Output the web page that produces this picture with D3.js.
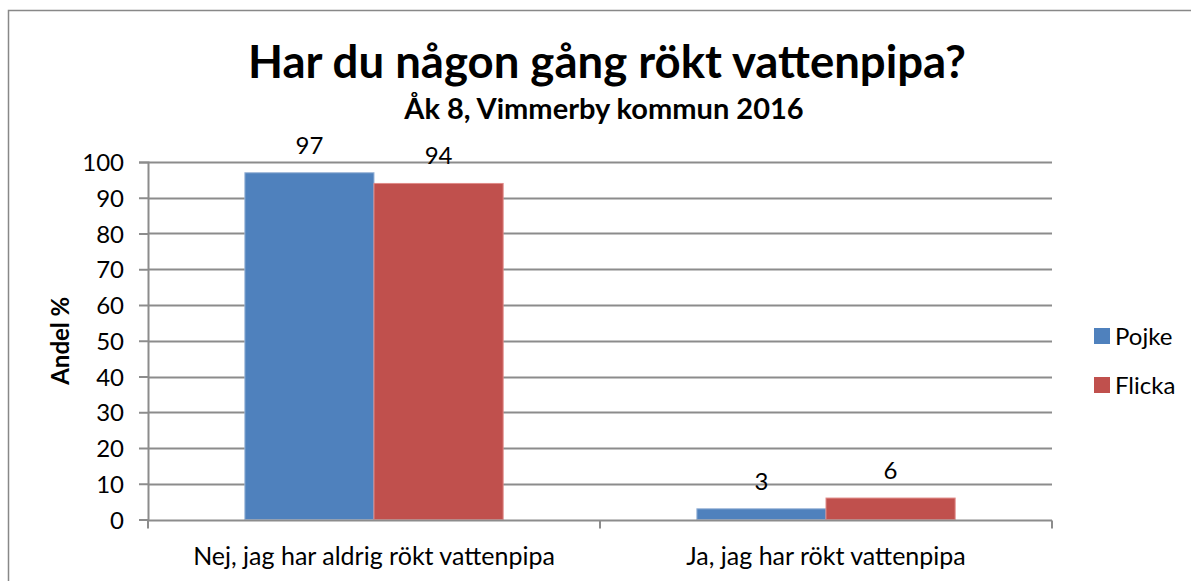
<!DOCTYPE html>
<html>
<head>
<meta charset="utf-8">
<script src="https://cdn.jsdelivr.net/npm/d3@7"></script>
<style>
  body { margin: 0; background: #fff; }
  svg text { font-family: Lato, "Open Sans", sans-serif; fill: #000; }
</style>
</head>
<body>
<div id="chart"></div>
<script>
const categories = ['Nej, jag har aldrig rökt vattenpipa', 'Ja, jag har rökt vattenpipa'];
const seriesNames = ['Pojke', 'Flicka'];
const pojke = [97, 3];
const flicka = [94, 6];
const yTicks = [0, 10, 20, 30, 40, 50, 60, 70, 80, 90, 100];
const colors = ['#4F81BD', '#C0504D'];

const width = 1191;
const height = 581;
const margin = { left: 148, right: 139, top: 162, bottom: 61 };

const svg = d3.select('#chart').append('svg')
  .attr('width', width)
  .attr('height', height);

// outer chart border (runs off the right and bottom edges)
svg.append('rect')
  .attr('x', 8.5).attr('y', 10.5)
  .attr('width', 1200).attr('height', 600)
  .attr('fill', 'none')
  .attr('stroke', '#888')
  .attr('stroke-width', 1.5);

const x0 = d3.scaleBand()
  .domain(categories)
  .range([margin.left, width - margin.right])
  .paddingInner(0)
  .paddingOuter(0);

// gap width 150%: half the gap on each side of the pair of bars
const x1 = d3.scaleBand()
  .domain(seriesNames)
  .range([0, x0.bandwidth()])
  .paddingInner(0)
  .paddingOuter(0.75);

const y = d3.scaleLinear()
  .domain([0, 100])
  .range([height - margin.bottom - 0.5, margin.top]);

const data = categories.map((c, i) => ({
  cat: c,
  values: [
    { name: seriesNames[0], value: pojke[i] },
    { name: seriesNames[1], value: flicka[i] }
  ]
}));

// gridlines
svg.append('g')
  .selectAll('line')
  .data(yTicks.slice(1))
  .join('line')
  .attr('x1', margin.left)
  .attr('x2', width - margin.right)
  .attr('y1', d => Math.round(y(d)) + 0.5)
  .attr('y2', d => Math.round(y(d)) + 0.5)
  .attr('stroke', '#8c8c8c')
  .attr('stroke-width', 2);

// y axis
const yAxis = svg.append('g')
  .attr('transform', `translate(${margin.left},0)`)
  .call(d3.axisLeft(y).tickValues(yTicks).tickSize(9).tickPadding(15));
yAxis.select('.domain').attr('stroke', '#8c8c8c').attr('stroke-width', 2);
yAxis.selectAll('.tick line').attr('stroke', '#8c8c8c').attr('stroke-width', 2);
yAxis.selectAll('.tick text')
  .attr('font-size', 24)
  .attr('dy', '0.36em')
  .style('font-family', 'Lato, sans-serif');

// bars
const groups = svg.append('g')
  .selectAll('g')
  .data(data)
  .join('g')
  .attr('transform', d => `translate(${x0(d.cat)},0)`);

groups.selectAll('rect')
  .data(d => d.values)
  .join('rect')
  .attr('x', d => x1(d.name))
  .attr('y', d => y(d.value))
  .attr('width', x1.bandwidth())
  .attr('height', d => y(0) - y(d.value))
  .attr('fill', (d, i) => colors[i])
  .attr('stroke', (d, i) => i === 0 ? '#9bb5d8' : '#e08a88')
  .attr('stroke-width', 1);

groups.selectAll('text')
  .data(d => d.values)
  .join('text')
  .attr('x', d => x1(d.name) + x1.bandwidth() / 2)
  .attr('y', d => y(d.value) - 19)
  .attr('text-anchor', 'middle')
  .attr('font-size', 24)
  .text(d => d.value);

// x axis
const xAxis = svg.append('g')
  .attr('transform', `translate(0,${Math.round(y(0)) + 0.5})`);
xAxis.append('line')
  .attr('x1', margin.left).attr('x2', width - margin.right)
  .attr('stroke', '#8c8c8c').attr('stroke-width', 2);
const bounds = [margin.left, x0(categories[1]), width - margin.right];
xAxis.selectAll('.cat-tick')
  .data(bounds)
  .join('line')
  .attr('class', 'cat-tick')
  .attr('x1', d => d).attr('x2', d => d)
  .attr('y1', 0).attr('y2', 8)
  .attr('stroke', '#8c8c8c').attr('stroke-width', 2);
xAxis.selectAll('.cat-label')
  .data(categories)
  .join('text')
  .attr('class', 'cat-label')
  .attr('x', d => x0(d) + x0.bandwidth() / 2)
  .attr('y', 44)
  .attr('text-anchor', 'middle')
  .attr('font-size', 25)
  .text(d => d);

// y axis title
svg.append('text')
  .attr('transform', `translate(69,${(y(0) + y(100)) / 2}) rotate(-90)`)
  .attr('text-anchor', 'middle')
  .attr('font-size', 24)
  .attr('font-weight', 'bold')
  .text('Andel %');

// titles
svg.append('text')
  .attr('x', 607).attr('y', 78)
  .attr('text-anchor', 'middle')
  .attr('font-size', 45.5)
  .attr('font-weight', 'bold')
  .text('Har du någon gång rökt vattenpipa?');

svg.append('text')
  .attr('x', 604).attr('y', 119)
  .attr('text-anchor', 'middle')
  .attr('font-size', 29)
  .attr('font-weight', 'bold')
  .text('Åk 8, Vimmerby kommun 2016');

// legend
const legend = svg.append('g')
  .selectAll('g')
  .data(seriesNames)
  .join('g')
  .attr('transform', (d, i) => `translate(1094,${328 + i * 49})`);
legend.append('rect')
  .attr('width', 16).attr('height', 16)
  .attr('fill', (d, i) => colors[i]);
legend.append('text')
  .attr('x', 21).attr('y', 8)
  .attr('dy', '0.36em')
  .attr('font-size', 24)
  .text(d => d);
</script>
</body>
</html>
